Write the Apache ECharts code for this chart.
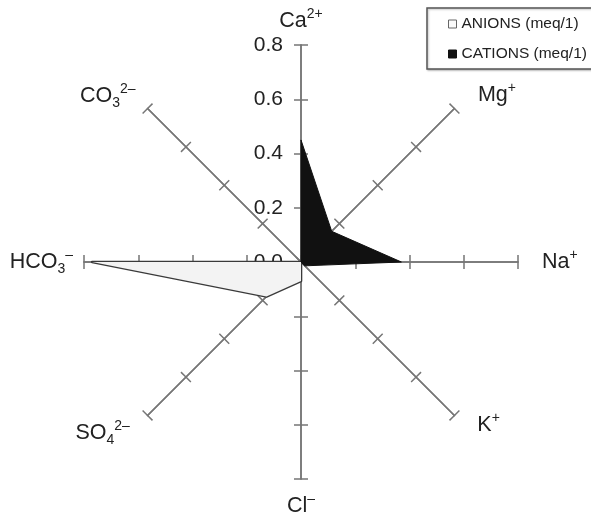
<!DOCTYPE html>
<html>
<head>
<meta charset="utf-8">
<script src="https://cdn.jsdelivr.net/npm/echarts@6/dist/echarts.min.js"></script>
<style>
  html, body { margin: 0; padding: 0; background: #fff; }
  #chart { width: 591px; height: 520px; }
</style>
</head>
<body>
<div id="chart"></div>
<script>
// Ion axes, in radar order (starting at the top, going counter-clockwise)
const ions = ['Ca', 'CO3', 'HCO3', 'SO4', 'Cl', 'K', 'Na', 'Mg'];
// Rich-text names with super/subscripts
const ionLabels = [
  '{b|Ca}{sup|2+}',
  '{b|CO}{sub|3}{sup|2–}',
  '{b|HCO}{sub|3}{sup|–}',
  '{b|SO}{sub|4}{sup|2–}',
  '{b|Cl}{sup|–}',
  '{sp13| }{b|K}{sup|+}',
  '{b|Na}{sup|+}',
  '{sp10| }{b|Mg}{sup|+}'
];
const nameGaps = [10, 17, 11, 25, 13, 14, 24, 19];

// Concentrations, meq/l
const anions  = [0, 0, 0.77, 0.18, 0.07, 0, 0, 0];
const cations = [0.45, 0, 0, 0, 0, 0.02, 0.37, 0.16];
const seriesNames = ['ANIONS (meq/1)', 'CATIONS (meq/1)'];

const axisMin = 0, axisMax = 0.8, splits = 4;

const FONT = '"Liberation Sans", Arial, Helvetica, sans-serif';
const AXIS_COLOR = '#767676';

const chart = echarts.init(document.getElementById('chart'), null, { renderer: 'canvas' });

const indicators = ions.map((ion, i) => {
  const ind = { name: ion, min: axisMin, max: axisMax, nameGap: nameGaps[i] };
  if (i === 0) {
    ind.axisLabel = {
      show: true,
      margin: 18,
      color: '#222',
      fontFamily: FONT,
      fontSize: 21,
      formatter: v => v.toFixed(1)
    };
  }
  return ind;
});

const richName = {
  b:   { fontFamily: FONT, fontSize: 21.5, lineHeight: 28, color: '#222' },
  sup: { fontFamily: FONT, fontSize: 14, lineHeight: 18, color: '#222', verticalAlign: 'top' },
  sub: { fontFamily: FONT, fontSize: 14, lineHeight: 14, color: '#222', verticalAlign: 'bottom' },
  sp10: { width: 10, fontSize: 13 },
  sp13: { width: 13, fontSize: 13 }
};

const baseRadar = {
  z: 0,
  center: [301, 262],
  radius: 217,
  startAngle: 90,
  shape: 'polygon',
  splitNumber: splits,
  splitLine: { show: false },
  splitArea: { show: false }
};

const option = {
  backgroundColor: '#fff',
  animation: false,
  legend: {
    orient: 'vertical',
    left: 427,
    top: 8,
    padding: [7, 12, 6, 21],
    itemGap: 12,
    itemWidth: 8,
    itemHeight: 8,
    icon: 'rect',
    borderColor: '#555',
    borderWidth: 1.5,
    backgroundColor: '#fff',
    shadowColor: 'rgba(0,0,0,0.25)',
    shadowBlur: 2,
    shadowOffsetX: 1,
    shadowOffsetY: 1,
    textStyle: { fontFamily: FONT, fontSize: 15.5, lineHeight: 18, color: '#222' },
    data: [
      { name: seriesNames[0], itemStyle: { color: '#fafafa', borderColor: '#666', borderWidth: 1 } },
      { name: seriesNames[1], itemStyle: { color: '#111', borderColor: '#111', borderWidth: 1 } }
    ]
  },
  radar: [
    Object.assign({}, baseRadar, {
      indicator: indicators,
      axisName: {
        formatter: (v, ind) => ionLabels[ions.indexOf(ind.name)],
        rich: richName
      },
      axisLine: { lineStyle: { color: AXIS_COLOR, width: 1.5 } },
      axisTick: { show: true, length: 7, lineStyle: { color: AXIS_COLOR, width: 1.5 } },
      axisLabel: { show: false }
    }),
    // second copy only adds tick marks on the opposite side of each axis
    Object.assign({}, baseRadar, {
      indicator: ions.map(ion => ({ name: ion, min: axisMin, max: axisMax })),
      axisName: { show: false },
      axisLine: { show: true, lineStyle: { color: AXIS_COLOR, width: 1.5 } },
      axisTick: { show: true, length: -7, lineStyle: { color: AXIS_COLOR, width: 1.5 } },
      axisLabel: { show: false }
    })
  ],
  series: [
    {
      type: 'radar',
      radarIndex: 0,
      symbol: 'none',
      zlevel: 1,
      z: 5,
      data: [
        {
          name: seriesNames[0],
          value: anions,
          lineStyle: { color: '#3a3a3a', width: 2.6 },
          areaStyle: { color: '#f3f3f3', opacity: 1 },
          itemStyle: { color: '#fafafa' }
        },
        {
          name: seriesNames[1],
          value: cations,
          lineStyle: { color: '#111', width: 1 },
          areaStyle: { color: '#111', opacity: 1 },
          itemStyle: { color: '#111' }
        }
      ]
    }
  ]
};

chart.setOption(option);
</script>
</body>
</html>
